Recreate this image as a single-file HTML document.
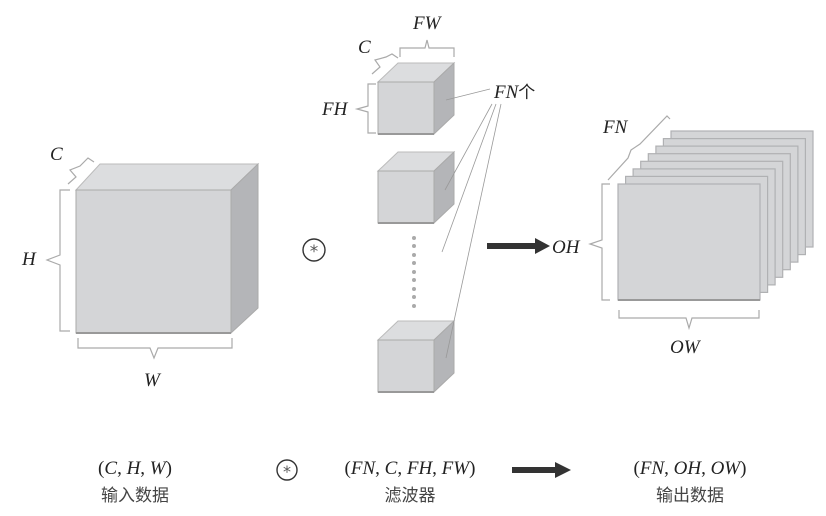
<!DOCTYPE html>
<html><head><meta charset="utf-8"><style>
html,body{margin:0;padding:0;background:#fff;}
svg{display:block;}
.m{font-family:"Liberation Serif",serif;font-style:italic;font-size:19px;fill:#222;}
.t{font-family:"Liberation Serif","Noto Serif CJK SC",serif;font-size:19px;fill:#222;}
.c{font-family:"Noto Sans CJK SC",sans-serif;font-size:17px;fill:#444;}
.br{fill:none;stroke:#aaa;stroke-width:1.2;}
</style></head><body>
<svg width="826" height="516" viewBox="0 0 826 516" xmlns="http://www.w3.org/2000/svg">
<defs>
<g id="cube">
<polygon points="0,0 20,-19 76,-19 56,0" fill="#dcdddf" stroke="#bbb" stroke-width="1"/>
<polygon points="56,0 76,-19 76,33 56,52" fill="#b4b5b8" stroke="#aaa" stroke-width="1"/>
<rect x="0" y="0" width="56" height="52" fill="#d4d5d7" stroke="#aaa" stroke-width="1"/>
<line x1="0" y1="52" x2="56" y2="52" stroke="#999" stroke-width="2"/>
</g>
</defs>
<!-- big cube -->
<polygon points="76,190 100,164 258,164 231,190" fill="#dcdddf" stroke="#bbb"/>
<polygon points="231,190 258,164 258,308 231,333" fill="#b4b5b8" stroke="#aaa"/>
<rect x="76" y="190" width="155" height="143" fill="#d4d5d7" stroke="#aaa"/>
<line x1="76" y1="333" x2="231" y2="333" stroke="#999" stroke-width="2"/>
<path class="br" d="M68,184 L76,177 L70,170 L80,166 L88,158 L94,162"/>
<text class="m" x="50" y="160">C</text>
<path class="br" d="M70,190 L60,190 L60,255 L47,260 L60,265 L60,331 L70,331"/>
<text class="m" x="22" y="265">H</text>
<path class="br" d="M78,338 L78,348 L150,348 L154,358 L158,348 L232,348 L232,338"/>
<text class="m" x="144" y="386">W</text>
<!-- circled asterisk -->
<circle cx="314" cy="250" r="11" fill="none" stroke="#333" stroke-width="1.4"/>
<text x="314" y="257" text-anchor="middle" style="font-family:'DejaVu Sans',sans-serif;font-size:17px;fill:#555">*</text>
<!-- filters -->
<use href="#cube" x="378" y="82"/>
<use href="#cube" x="378" y="171"/>
<use href="#cube" x="378" y="340"/>
<g fill="#aaa">
<circle cx="414" cy="238" r="2"/><circle cx="414" cy="246" r="2"/><circle cx="414" cy="255" r="2"/><circle cx="414" cy="263" r="2"/><circle cx="414" cy="272" r="2"/><circle cx="414" cy="280" r="2"/><circle cx="414" cy="289" r="2"/><circle cx="414" cy="297" r="2"/><circle cx="414" cy="306" r="2"/>
</g>
<path class="br" d="M400,57 L400,48 L425,48 L427,40 L429,48 L454,48 L454,57"/>
<text class="m" x="413" y="29">FW</text>
<path class="br" d="M372,74 L380,67 L375,60 L386,57 L392,54 L398,58"/>
<text class="m" x="358" y="53">C</text>
<path class="br" d="M376,84 L368,84 L368,106 L357,109 L368,112 L368,133 L376,133"/>
<text class="m" x="322" y="115">FH</text>
<g stroke="#999" stroke-width="0.8">
<line x1="446" y1="100" x2="490" y2="89"/>
<line x1="492" y1="104" x2="445" y2="190"/>
<line x1="496" y1="104" x2="442" y2="252"/>
<line x1="501" y1="104" x2="446" y2="358"/>
</g>
<text class="m" x="494" y="98">FN<tspan class="c" style="font-style:normal;fill:#222">个</tspan></text>
<!-- arrow -->
<rect x="487" y="243" width="50" height="6" fill="#333"/>
<polygon points="535,238 550,246 535,254" fill="#333"/>
<text class="m" x="552" y="253">OH</text>
<!-- output stack -->
<g stroke="#b0b1b3" stroke-width="1.2" fill="#d4d5d7">
<rect x="671" y="131" width="142" height="116"/>
<rect x="663.4" y="138.6" width="142" height="116"/>
<rect x="655.9" y="146.1" width="142" height="116"/>
<rect x="648.3" y="153.7" width="142" height="116"/>
<rect x="640.7" y="161.3" width="142" height="116"/>
<rect x="633.1" y="168.9" width="142" height="116"/>
<rect x="625.6" y="176.4" width="142" height="116"/>
<rect x="618" y="184" width="142" height="116"/>
</g>
<line x1="618" y1="300" x2="760" y2="300" stroke="#999" stroke-width="2"/>
<path class="br" d="M608,180 L628,158 L631,150 L640,144 L667,116 L670,119"/>
<text class="m" x="603" y="133">FN</text>
<path class="br" d="M610,184 L602,184 L602,240 L590,244 L602,248 L602,300 L610,300"/>
<path class="br" d="M619,310 L619,318 L686,318 L689,328 L692,318 L759,318 L759,310"/>
<text class="m" x="670" y="353">OW</text>
<!-- bottom -->
<text class="t" x="135" y="474" text-anchor="middle">(<tspan font-style="italic">C</tspan>, <tspan font-style="italic">H</tspan>, <tspan font-style="italic">W</tspan>)</text>
<text class="c" x="135" y="501" text-anchor="middle">输入数据</text>
<circle cx="287" cy="470" r="10" fill="none" stroke="#333" stroke-width="1.4"/>
<text x="287" y="477" text-anchor="middle" style="font-family:'DejaVu Sans',sans-serif;font-size:16px;fill:#555">*</text>
<text class="t" x="410" y="474" text-anchor="middle">(<tspan font-style="italic">FN</tspan>, <tspan font-style="italic">C</tspan>, <tspan font-style="italic">FH</tspan>, <tspan font-style="italic">FW</tspan>)</text>
<text class="c" x="410" y="501" text-anchor="middle">滤波器</text>
<rect x="512" y="467" width="45" height="6" fill="#333"/>
<polygon points="555,462 571,470 555,478" fill="#333"/>
<text class="t" x="690" y="474" text-anchor="middle">(<tspan font-style="italic">FN</tspan>, <tspan font-style="italic">OH</tspan>, <tspan font-style="italic">OW</tspan>)</text>
<text class="c" x="690" y="501" text-anchor="middle">输出数据</text>
</svg>
</body></html>
